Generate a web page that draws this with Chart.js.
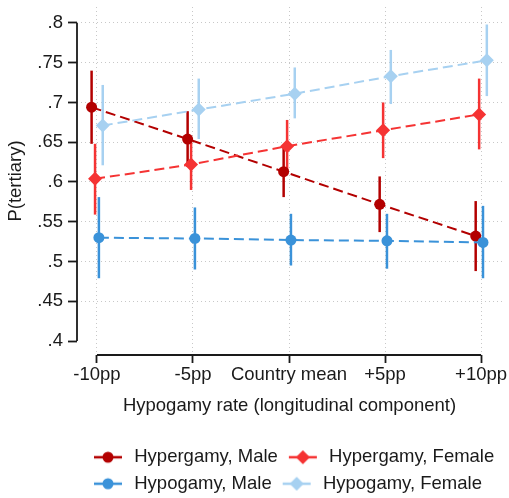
<!DOCTYPE html>
<html>
<head>
<meta charset="utf-8">
<script src="https://cdn.jsdelivr.net/npm/chart.js@4.4.1/dist/chart.umd.min.js"></script>
<style>
  html, body { margin: 0; padding: 0; background: #fff; }
  #wrap { position: relative; width: 509px; height: 498px; }
</style>
</head>
<body>
<div id="wrap"><canvas id="chart"></canvas></div>
<script>
// categories (x = change in hypogamy rate, pp)
const xValues = [-10, -5, 0, 5, 10];
const xLabels = ["-10pp", "-5pp", "Country mean", "+5pp", "+10pp"];
const yTicks = [0.4, 0.45, 0.5, 0.55, 0.6, 0.65, 0.7, 0.75, 0.8];

const seriesNames = ["Hypergamy, Male", "Hypergamy, Female", "Hypogamy, Male", "Hypogamy, Female"];

// predicted P(tertiary) with 95% CI
const hyperMale   = [0.694, 0.654, 0.613, 0.572, 0.532];
const hyperMaleLo = [0.648, 0.619, 0.581, 0.537, 0.488];
const hyperMaleHi = [0.740, 0.689, 0.644, 0.607, 0.576];

const hyperFemale   = [0.604, 0.622, 0.645, 0.665, 0.685];
const hyperFemaleLo = [0.559, 0.590, 0.612, 0.630, 0.641];
const hyperFemaleHi = [0.648, 0.654, 0.678, 0.700, 0.730];

const hypoMale   = [0.530, 0.529, 0.527, 0.526, 0.524];
const hypoMaleLo = [0.479, 0.490, 0.495, 0.491, 0.479];
const hypoMaleHi = [0.581, 0.568, 0.560, 0.560, 0.570];

const hypoFemale   = [0.671, 0.691, 0.711, 0.733, 0.753];
const hypoFemaleLo = [0.621, 0.654, 0.680, 0.698, 0.708];
const hypoFemaleHi = [0.722, 0.730, 0.744, 0.766, 0.798];

const FONT = "'Liberation Sans', Arial, sans-serif";
const FSIZE = 18.5;
const INK = "#1a1a1a";

// little legend key: solid line with the marker on top
function legendKey(color, style) {
  const c = document.createElement("canvas");
  c.width = 30; c.height = 16;
  const g = c.getContext("2d");
  g.strokeStyle = color; g.lineWidth = 2.5;
  g.beginPath(); g.moveTo(1, 8); g.lineTo(29, 8); g.stroke();
  g.fillStyle = color;
  g.beginPath();
  if (style === "circle") {
    g.arc(15, 8, 5.5, 0, Math.PI * 2);
  } else {
    g.moveTo(8, 8); g.lineTo(15, 1); g.lineTo(22, 8); g.lineTo(15, 15); g.closePath();
  }
  g.fill();
  return c;
}

function makeSeries(name, values, lo, hi, color, style, shift, order) {
  return {
    label: name,
    data: values.map((v, i) => ({ x: xValues[i] + shift, y: v })),
    lo: lo,
    hi: hi,
    borderColor: color,
    backgroundColor: color,
    borderWidth: 2,
    borderDash: [10, 5],
    pointStyle: style,
    pointRadius: style === "circle" ? 5.5 : 7,
    pointBorderWidth: 0,
    legendKey: legendKey(color, style),
    order: order,
    tension: 0
  };
}

const datasets = [
  makeSeries(seriesNames[0], hyperMale, hyperMaleLo, hyperMaleHi, "#b30000", "circle", -0.28, 4),
  makeSeries(seriesNames[1], hyperFemale, hyperFemaleLo, hyperFemaleHi, "#f53333", "rectRot", -0.1, 3),
  makeSeries(seriesNames[2], hypoMale, hypoMaleLo, hypoMaleHi, "#3a92d9", "circle", 0.1, 2),
  makeSeries(seriesNames[3], hypoFemale, hypoFemaleLo, hypoFemaleHi, "#a7d1f1", "rectRot", 0.3, 1)
];

// vertical CI spikes, behind the markers
const errorBars = {
  id: "errorBars",
  beforeDatasetsDraw(chart) {
    const { ctx, scales: { x, y } } = chart;
    chart.data.datasets.forEach((ds) => {
      ctx.save();
      ctx.strokeStyle = ds.borderColor;
      ctx.lineWidth = 2.5;
      ds.data.forEach((p, i) => {
        const px = x.getPixelForValue(p.x);
        ctx.beginPath();
        ctx.moveTo(px, y.getPixelForValue(ds.lo[i]));
        ctx.lineTo(px, y.getPixelForValue(ds.hi[i]));
        ctx.stroke();
      });
      ctx.restore();
    });
  }
};

// Stata-style axis lines that only span the tick range
const axisLines = {
  id: "axisLines",
  beforeDatasetsDraw(chart) {
    const { ctx, scales: { x, y } } = chart;
    ctx.save();
    ctx.strokeStyle = INK;
    ctx.lineWidth = 1.8;
    ctx.beginPath();
    ctx.moveTo(x.left, y.getPixelForValue(yTicks[0]));
    ctx.lineTo(x.left, y.getPixelForValue(yTicks[yTicks.length - 1]));
    ctx.moveTo(x.getPixelForValue(xValues[0]), y.bottom);
    ctx.lineTo(x.getPixelForValue(xValues[xValues.length - 1]), y.bottom);
    ctx.stroke();
    ctx.restore();
  }
};

// line the legend rows up with the first x tick and nudge them down a bit
const legendShift = {
  id: "legendShift",
  afterLayout(chart) {
    chart.legend.left = 83;
    chart.legend.top += 5;
  }
};

new Chart(document.getElementById("chart"), {
  type: "line",
  data: { datasets },
  plugins: [errorBars, axisLines, legendShift],
  options: {
    responsive: true,
    maintainAspectRatio: false,
    animation: false,
    layout: { padding: { top: 3, right: 1, left: 0, bottom: 0 } },
    scales: {
      x: {
        type: "linear",
        min: -11.04,
        max: 11.09,
        afterBuildTicks: (s) => { s.ticks = xValues.map((v) => ({ value: v })); },
        afterFit: (s) => { s.height = 80; s.paddingLeft = 0; s.paddingRight = 0; },
        ticks: {
          callback: (v) => xLabels[xValues.indexOf(v)],
          autoSkip: false,
          maxRotation: 0,
          padding: 1,
          color: INK,
          font: { family: FONT, size: FSIZE }
        },
        grid: {
          color: "#c8c8c8",
          borderDash: [1, 3],
          tickLength: 8,
          tickColor: INK,
          tickWidth: 1.8,
          tickBorderDash: []
        },
        border: { display: false, dash: [1, 3] },
        title: {
          display: true,
          text: "Hypogamy rate (longitudinal component)",
          color: INK,
          font: { family: FONT, size: FSIZE },
          padding: { top: 0, bottom: 18 }
        }
      },
      y: {
        min: 0.3825,
        max: 0.82,
        afterBuildTicks: (s) => { s.ticks = yTicks.map((v) => ({ value: v })); },
        afterFit: (s) => { s.width = 77; s.paddingTop = 0; s.paddingBottom = 0; },
        ticks: {
          callback: (v) => v.toFixed(2).replace(/0$/, "").replace(/^0/, ""),
          padding: 5,
          color: INK,
          font: { family: FONT, size: FSIZE }
        },
        grid: {
          color: (c) => (c.tick && c.tick.value < 0.41 ? "rgba(0,0,0,0)" : "#c8c8c8"),
          borderDash: [1, 3],
          tickLength: 9,
          tickColor: INK,
          tickWidth: 1.8,
          tickBorderDash: []
        },
        border: { display: false, dash: [1, 3] },
        title: {
          display: true,
          text: "P(tertiary)",
          color: INK,
          font: { family: FONT, size: FSIZE },
          padding: { top: 5, bottom: 0 }
        }
      }
    },
    plugins: {
      tooltip: { enabled: false },
      legend: {
        position: "bottom",
        align: "start",
        labels: {
          usePointStyle: true,
          pointStyleWidth: 34,
          padding: 8,
          color: INK,
          font: { family: FONT, size: FSIZE },
          sort: (a, b) => a.datasetIndex - b.datasetIndex,
          generateLabels: (chart) => chart.data.datasets.map((ds, i) => ({
            text: ds.label,
            pointStyle: ds.legendKey,
            fillStyle: ds.borderColor,
            strokeStyle: ds.borderColor,
            lineWidth: 0,
            fontColor: INK,
            hidden: false,
            datasetIndex: i
          }))
        }
      }
    }
  }
});
</script>
</body>
</html>
